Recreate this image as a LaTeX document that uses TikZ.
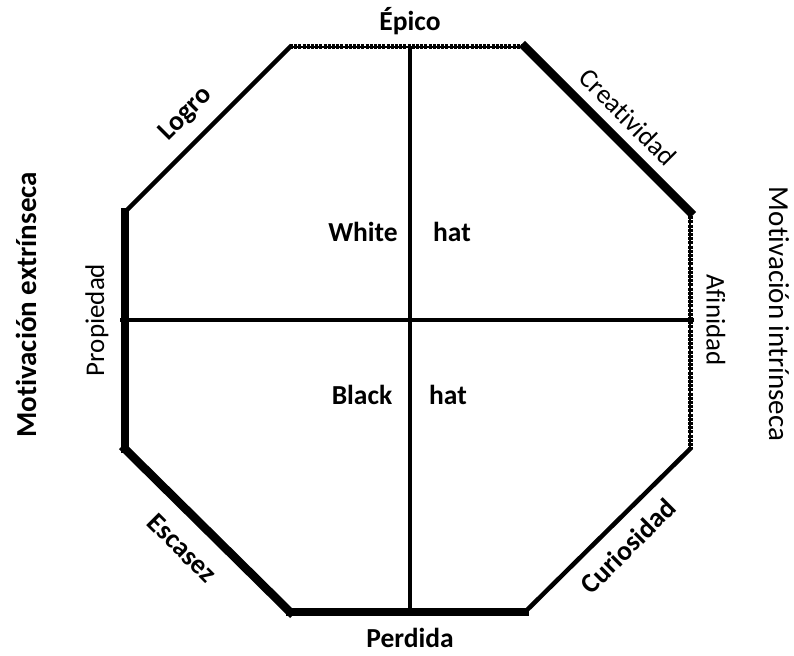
\documentclass[tikz,border=0pt]{standalone}
\usepackage{fontspec}
\setmainfont{Carlito}[Ligatures=NoCommon]
\usetikzlibrary{positioning}
\begin{document}
\begin{tikzpicture}[x=1pt, y=-1pt,
    thinedge/.style={line width=4.5pt, line cap=rect},
    heavyedge/.style={line width=8.5pt, line cap=rect},
    dotedge/.style={line width=5pt, dash pattern=on 3pt off 1.2pt,
                    preaction={draw, solid, line width=2.5pt}},
    axisline/.style={line width=3.8pt},
    lbl/.style={inner sep=0pt, font=\fontsize{27}{32}\selectfont},
    blbl/.style={inner sep=0pt, font=\fontsize{27.5}{32}\selectfont\bfseries},
    side/.style={inner sep=0pt, font=\fontsize{29}{34}\selectfont}
  ]
  \useasboundingbox (0,0) rectangle (794,655);
  % octagon corners
  \coordinate (tl) at (290,47);
  \coordinate (tr) at (525,47);
  \coordinate (rt) at (690,212);
  \coordinate (rb) at (690,449);
  \coordinate (br) at (525,612);
  \coordinate (bl) at (290,612);
  \coordinate (lb) at (125,449);
  \coordinate (lt) at (125,212);
  % axes
  \coordinate (top) at (410,47);
  \coordinate (bot) at (410,616);
  \coordinate (lft) at (120,320);
  \coordinate (rgt) at (694,320);
  \draw[axisline] (top) -- (bot);
  \draw[axisline] (lft) -- (rgt);
  % edges
  \draw[dotedge] (tl) -- (tr);
  \draw[heavyedge] (tr) -- (rt);
  \draw[dotedge] (rt) -- (rb);
  \draw[thinedge] (rb) -- (br);
  \draw[heavyedge] (br) -- (bl);
  \draw[heavyedge] (bl) -- (lb);
  \draw[heavyedge] (lb) -- (lt);
  \draw[thinedge] (lt) -- (tl);
  % edge labels
  \node[blbl] (epico) at (410,21) {Épico};
  \node[lbl, rotate=-45] (creat) at (628,117) {Creatividad};
  \node[lbl, rotate=-90] (afin) at (716,320) {Afinidad};
  \node[blbl, rotate=45] (curio) at (628,546) {Curiosidad};
  \node[blbl] (perd) at (410,638) {Perdida};
  \node[blbl, rotate=-45] (escas) at (182,548) {Escasez};
  \node[lbl, rotate=90] (prop) at (97,320) {Propiedad};
  \node[blbl, rotate=45] (logro) at (186,114) {Logro};
  % quadrant labels
  \node[blbl] (white) at (363,232) {White};
  \node[blbl] (whitehat) at (452,232) {hat};
  \node[blbl] (black) at (362,395) {Black};
  \node[blbl] (blackhat) at (448,395) {hat};
  % side titles
  \node[side, font=\fontsize{29}{34}\selectfont\bfseries, rotate=90] (extr) at (26,305) {Motivación extrínseca};
  \node[side, rotate=-90] (intr) at (779,314) {Motivación intrínseca};
\end{tikzpicture}
\end{document}
